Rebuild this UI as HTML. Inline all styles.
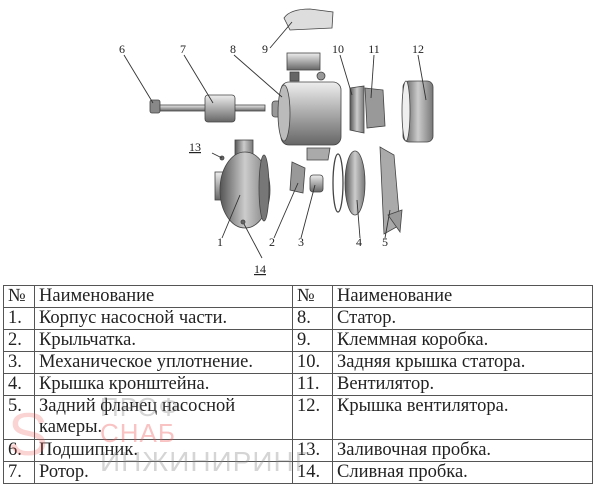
<!DOCTYPE html>
<html><head><meta charset="utf-8"><style>
body{margin:0;width:600px;height:493px;background:#fff;position:relative;overflow:hidden;font-family:"Liberation Serif",serif}
svg{position:absolute;left:0;top:0}
table{position:absolute;left:3px;top:285px;width:590px;border-collapse:collapse;font-size:18.5px;color:#222;table-layout:fixed}
td{border:1px solid #555;padding:0 4px;height:21px;vertical-align:top;line-height:21px;white-space:normal;overflow:hidden}
.wm{position:absolute;font-family:"Liberation Sans",sans-serif;font-size:30px;letter-spacing:1px;opacity:.35}
</style></head><body>
<svg width="600" height="280" viewBox="0 0 600 280">
<defs>
<linearGradient id="g" x1="0" y1="0" x2="0" y2="1"><stop offset="0" stop-color="#eee"/><stop offset=".5" stop-color="#aaa"/><stop offset="1" stop-color="#666"/></linearGradient>
<linearGradient id="h" x1="0" y1="0" x2="1" y2="0"><stop offset="0" stop-color="#555"/><stop offset=".5" stop-color="#ccc"/><stop offset="1" stop-color="#777"/></linearGradient>
</defs>
<g stroke="#444" stroke-width=".8">
<path d="M284 18 Q290 9 310 9 L333 12 L332 28 L290 30 Z" fill="#ddd"/>
<rect x="287" y="53" width="33" height="17" fill="url(#g)"/>
<rect x="150" y="100" width="10" height="13" rx="2" fill="#888"/>
<rect x="160" y="105" width="105" height="6" fill="url(#g)"/>
<rect x="205" y="95" width="30" height="27" rx="3" fill="url(#g)"/>
<rect x="272" y="101" width="10" height="16" rx="3" fill="#999"/>
<rect x="281" y="82" width="60" height="63" rx="8" fill="url(#g)"/>
<ellipse cx="284" cy="113" rx="6" ry="28" fill="#bbb"/>
<rect x="290" y="72" width="9" height="9" fill="#666"/>
<circle cx="321" cy="76" r="4" fill="#999"/>
<path d="M307 148 H330 L328 160 H307 Z" fill="#aaa"/>
<path d="M350 88 L364 86 L364 133 L350 130 Z" fill="url(#h)"/>
<path d="M365 88 L383 90 L385 126 L367 128 Z" fill="#999"/>
<rect x="403" y="81" width="30" height="61" rx="6" fill="url(#h)"/>
<ellipse cx="406" cy="111" rx="4" ry="30" fill="#eee"/>
<rect x="235" y="140" width="18" height="15" fill="url(#h)"/>
<rect x="215" y="172" width="20" height="28" fill="url(#g)"/>
<ellipse cx="245" cy="190" rx="25" ry="38" fill="url(#h)"/>
<ellipse cx="264" cy="188" rx="5" ry="33" fill="#777"/>
<circle cx="222" cy="158" r="2" fill="#666"/>
<circle cx="243" cy="222" r="2" fill="#666"/>
<path d="M292 162 L305 168 L303 193 L290 190 Z" fill="#999"/>
<rect x="310" y="175" width="13" height="17" rx="3" fill="url(#g)"/>
<ellipse cx="338" cy="183" rx="5" ry="29" fill="none" stroke-width="1.3"/>
<ellipse cx="355" cy="183" rx="10" ry="32" fill="url(#h)"/>
<path d="M380 147 L394 155 L400 225 L384 234 Z" fill="#aaa"/>
<path d="M388 215 L402 210 L400 232 Z" fill="#999"/>
</g>
<g stroke="#333" stroke-width=".9" fill="none">
<line x1="270" y1="48" x2="292" y2="22"/>
<line x1="124" y1="55" x2="153" y2="103"/>
<line x1="184" y1="55" x2="213" y2="103"/>
<line x1="234" y1="55" x2="282" y2="97"/>
<line x1="340" y1="55" x2="352" y2="95"/>
<line x1="374" y1="55" x2="371" y2="98"/>
<line x1="418" y1="55" x2="426" y2="100"/>
<line x1="212" y1="153" x2="222" y2="158"/>
<line x1="222" y1="238" x2="240" y2="195"/>
<line x1="274" y1="238" x2="298" y2="183"/>
<line x1="301" y1="238" x2="315" y2="185"/>
<line x1="360" y1="238" x2="357" y2="200"/>
<line x1="385" y1="238" x2="390" y2="210"/>
<line x1="262" y1="258" x2="244" y2="224"/>
</g>
<g font-size="12" fill="#222" font-family="Liberation Serif,serif" text-anchor="middle">
<text x="265" y="53">9</text><text x="122" y="53">6</text><text x="183" y="53">7</text><text x="233" y="53">8</text>
<text x="338" y="53">10</text><text x="374" y="53">11</text><text x="418" y="53">12</text>
<text x="195" y="151" text-decoration="underline">13</text>
<text x="220" y="246">1</text><text x="272" y="246">2</text><text x="301" y="246">3</text><text x="359" y="246">4</text><text x="385" y="246">5</text>
<text x="260" y="273" text-decoration="underline">14</text>
</g>
</svg>
<table>
<colgroup><col style="width:31px"><col style="width:258px"><col style="width:40px"><col></colgroup>
<tr><td>№</td><td>Наименование</td><td>№</td><td>Наименование</td></tr>
<tr><td>1.</td><td>Корпус насосной части.</td><td>8.</td><td>Статор.</td></tr>
<tr><td>2.</td><td>Крыльчатка.</td><td>9.</td><td>Клеммная коробка.</td></tr>
<tr><td>3.</td><td>Механическое уплотнение.</td><td>10.</td><td>Задняя крышка статора.</td></tr>
<tr><td>4.</td><td>Крышка кронштейна.</td><td>11.</td><td>Вентилятор.</td></tr>
<tr><td style="height:43px">5.</td><td>Задний фланец насосной камеры.</td><td>12.</td><td>Крышка вентилятора.</td></tr>
<tr><td>6.</td><td>Подшипник.</td><td>13.</td><td>Заливочная пробка.</td></tr>
<tr><td>7.</td><td>Ротор.</td><td>14.</td><td>Сливная пробка.</td></tr>
</table>
<div class="wm" style="left:100px;top:392px;color:#888;font-size:26px">ПРОФ</div>
<div class="wm" style="left:100px;top:418px;color:#e55;font-size:26px">СНАБ</div>
<div class="wm" style="left:100px;top:446px;color:#888;font-size:28px">ИНЖИНИРИНГ</div>
<div class="wm" style="left:8px;top:400px;color:#e55;font-size:60px;opacity:.25">S</div>
</body></html>
